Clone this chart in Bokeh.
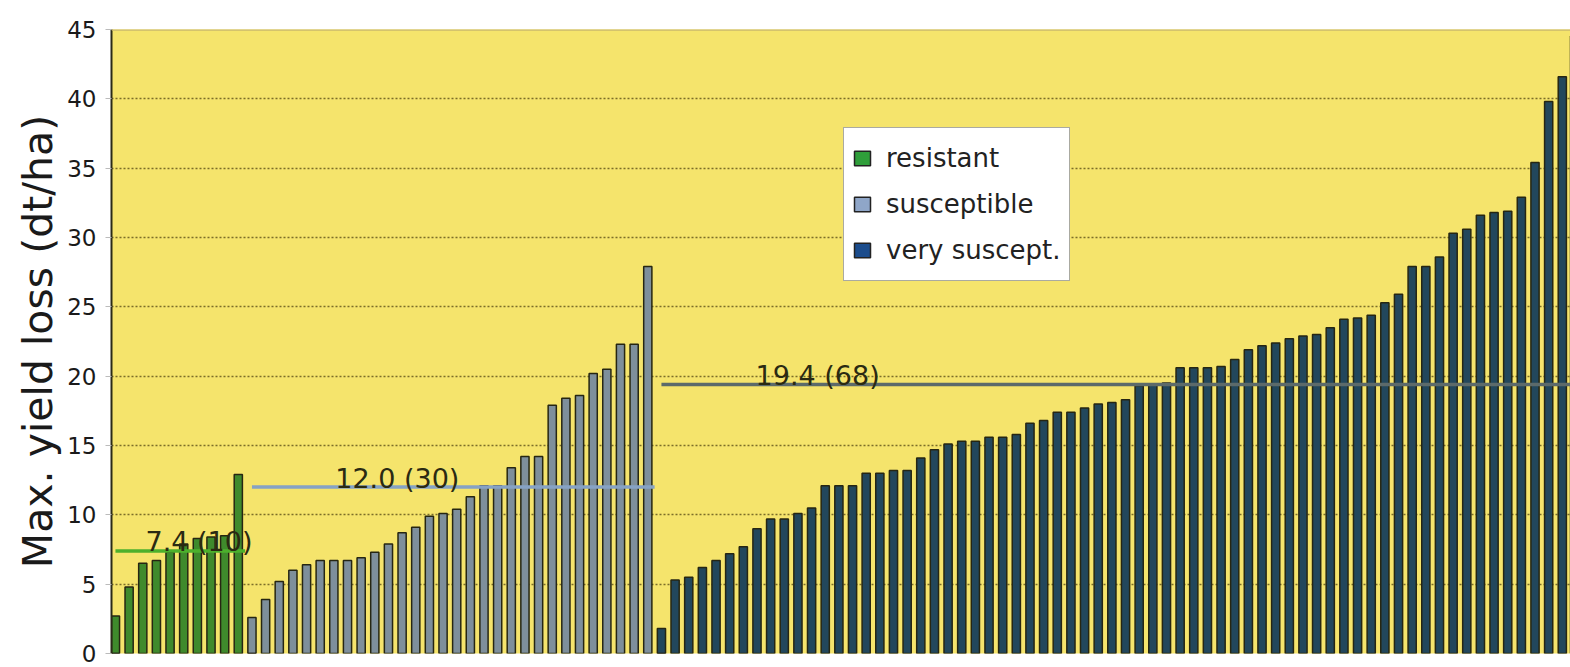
from bokeh.plotting import figure
from bokeh.models import Range1d, ColumnDataSource, Legend, LegendItem, Span
from bokeh.core.properties import value
from bokeh.embed import file_html
from bokeh.resources import INLINE

# ---------------- data ----------------
groups = ["resistant", "susceptible", "very suscept."]
resistant = [2.7, 4.8, 6.5, 6.7, 7.3, 7.9, 8.3, 8.4, 8.5, 12.9]
susceptible = [2.6, 3.9, 5.2, 6.0, 6.4, 6.7, 6.7, 6.7, 6.9, 7.3,
               7.9, 8.7, 9.1, 9.9, 10.1, 10.4, 11.3, 12.1, 12.1, 13.4,
               14.2, 14.2, 17.9, 18.4, 18.6, 20.2, 20.5, 22.3, 22.3, 27.9]
very_suscept = [1.8, 5.3, 5.5, 6.2, 6.7, 7.2, 7.7, 9.0, 9.7, 9.7,
                10.1, 10.5, 12.1, 12.1, 12.1, 13.0, 13.0, 13.2, 13.2, 14.1,
                14.7, 15.1, 15.3, 15.3, 15.6, 15.6, 15.8, 16.6, 16.8, 17.4,
                17.4, 17.7, 18.0, 18.1, 18.3, 19.3, 19.4, 19.5, 20.6, 20.6,
                20.6, 20.7, 21.2, 21.9, 22.2, 22.4, 22.7, 22.9, 23.0, 23.5,
                24.1, 24.2, 24.4, 25.3, 25.9, 27.9, 27.9, 28.6, 30.3, 30.6,
                31.6, 31.8, 31.9, 32.9, 35.4, 39.8, 41.6, 44.5]
group_means = [7.4, 12.0, 19.4]
group_counts = [10, 30, 68]
y_ticks = [0, 5, 10, 15, 20, 25, 30, 35, 40, 45]
y_title = "Max. yield loss (dt/ha)"

# ---------------- styles ----------------
bar_colors = ["#3f8a2c", "#7e8f9b", "#22475c"]
legend_colors = ["#2f9e3a", "#8fa6c8", "#1b4c8c"]
mean_line_colors = ["#4db02c", "#86a2c4", "#5c6a6a"]
label_offsets = [2.2, 6.1, 6.9]

p = figure(width=1570, height=667, output_backend="svg", toolbar_location=None,
           x_range=Range1d(-0.29, 106.6), y_range=Range1d(0, 45),
           min_border_left=111, min_border_top=29, min_border_right=0, min_border_bottom=14,
           background_fill_color="#f5e46c", border_fill_color="white")
p.outline_line_color = None

series = [resistant, susceptible, very_suscept]
start = 0
legend_items = []
for gi, vals in enumerate(series):
    xs = list(range(start, start + len(vals)))
    src = ColumnDataSource(dict(x=xs, top=vals))
    p.vbar(x="x", top="top", width=0.6, bottom=0, source=src,
           fill_color=bar_colors[gi], line_color="#262612", line_width=1.5)
    # zero-height renderer that only supplies the legend swatch colour
    lr = p.vbar(x=[start], top=[0], bottom=[0], width=0.6, fill_color=legend_colors[gi],
                line_color="#222222", line_width=1.5)
    legend_items.append(LegendItem(label=groups[gi], renderers=[lr]))
    # mean line
    end = start + len(vals) - 1
    x_end = end + 0.5 if gi < 2 else end + 1.5
    p.line(x=[start, x_end], y=[group_means[gi]] * 2,
           line_color=mean_line_colors[gi], line_width=3.5)
    p.text(x=[start + label_offsets[gi]], y=[group_means[gi]],
           text=[f"{group_means[gi]:.1f} ({group_counts[gi]})"],
           text_font=value("DejaVu Sans"), text_font_size="27px",
           text_color="#2a2a12", text_baseline="alphabetic", y_offset=-9)
    start += len(vals)

# top border
p.add_layout(Span(location=45, dimension="width", line_color="#c9b96e", line_width=2.5))

# axes
p.xaxis.visible = False
p.xgrid.visible = False
yax = p.yaxis[0]
yax.ticker = y_ticks
yax.axis_label = y_title
yax.axis_label_text_font = "DejaVu Sans"
yax.axis_label_text_font_size = "41px"
yax.axis_label_text_font_style = "normal"
yax.axis_label_text_color = "#1a1a1a"
yax.axis_label_standoff = 2
yax.major_label_text_font = "DejaVu Sans"
yax.major_label_text_font_size = "23px"
yax.major_label_text_color = "#1a1a1a"
yax.major_label_standoff = 9
yax.axis_line_color = "#2a2a18"
yax.axis_line_width = 2
yax.major_tick_line_color = "#bbbbbb"
yax.major_tick_out = 6
yax.major_tick_in = 0
yax.minor_tick_line_color = None

p.ygrid.ticker = y_ticks
p.ygrid.grid_line_color = "#6e5f22"
p.ygrid.grid_line_dash = "2 2"
p.ygrid.grid_line_width = 1.5
p.ygrid.grid_line_alpha = 0.9

legend = Legend(items=legend_items, location=(732, 372),
                glyph_width=20, glyph_height=18, label_standoff=14,
                label_height=44, spacing=2, padding=8,
                label_text_font="DejaVu Sans", label_text_font_size="26px",
                label_text_color="#222222",
                background_fill_color="white", background_fill_alpha=1.0,
                border_line_color="#555544", border_line_width=1.5)
p.add_layout(legend, "center")

open("out.html", "w").write(file_html(p, INLINE))
